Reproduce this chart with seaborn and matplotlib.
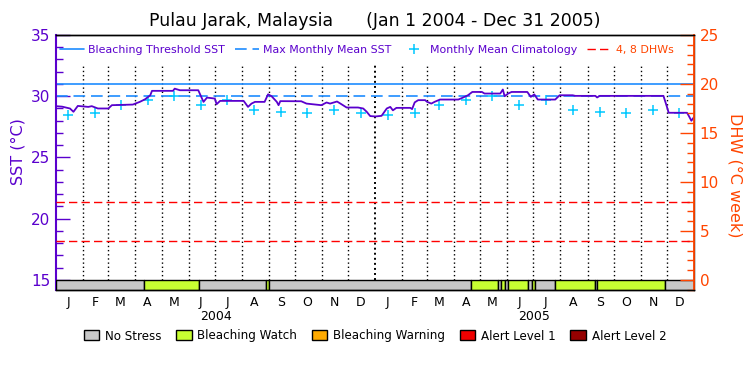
import numpy as np
import pandas as pd
import matplotlib
matplotlib.use("Agg")
import matplotlib.pyplot as plt
import matplotlib.dates as mdates
from matplotlib.lines import Line2D
from matplotlib.patches import Patch
from matplotlib.ticker import MultipleLocator
import seaborn as sns

START = pd.Timestamp("2004-01-01")

# daily SST (days since Jan 1 2004, deg C)
sst_days = [0, 7, 16, 20, 25, 37, 41, 48, 60, 64, 88, 96, 102, 108, 110, 134, 136, 142,
            163, 169, 173, 182, 184, 188, 215, 220, 224, 228, 239, 243, 247, 253, 255, 257,
            281, 287, 304, 310, 314, 322, 327, 333, 346, 352, 356, 360,
            366, 373, 379, 383, 386, 390, 406, 408, 411, 415, 423, 425, 430, 434, 440,
            461, 465, 472, 477, 488, 491, 509, 512, 514, 518, 522, 540, 544, 548, 552,
            572, 577, 592, 595, 618, 620, 623, 696, 700, 702, 723, 725, 728, 731]
sst_vals = [29.19, 29.15, 29.0, 28.73, 29.21, 29.13, 29.19, 29.0, 29.0, 29.27, 29.32, 29.54,
            29.75, 30.08, 30.44, 30.44, 30.62, 30.49, 30.49, 29.54, 29.89, 29.81, 29.35, 29.62,
            29.62, 29.13, 29.4, 29.54, 29.54, 30.16, 30.0, 29.54, 29.27, 29.6,
            29.59, 29.4, 29.27, 29.49, 29.4, 29.57, 29.35, 29.08, 29.08, 29.0, 28.73, 28.38,
            28.35, 28.4, 29.0, 29.13, 28.85, 29.05, 29.05, 28.95, 29.5, 29.68, 29.68, 29.55,
            29.4, 29.55, 29.73, 29.73, 29.85, 30.08, 30.35, 30.35, 30.22, 30.22, 30.55, 30.0,
            30.22, 30.35, 30.35, 29.95, 30.15, 29.73, 29.73, 30.08, 30.08, 30.03, 30.03, 29.9,
            30.03, 30.03, 29.13, 28.65, 28.65, 28.4, 28.0, 28.3]

# monthly mean climatology, Jan..Dec
clim = [28.45, 28.65, 29.25, 29.68, 30.03, 29.25, 29.68, 28.86, 28.73, 28.65, 28.86, 28.65]
mmm = 30.03
threshold = 31.03
dhw_levels = [4, 8]

# stress level bar: (start day, end day, level)
stress = [(0, 101, 0), (101, 164, 1), (164, 241, 0), (241, 244, 1), (244, 475, 0),
          (475, 507, 1), (507, 510, 0), (510, 514, 1), (514, 518, 0), (518, 541, 1),
          (541, 545, 0), (545, 549, 1), (549, 572, 0), (572, 618, 1), (618, 620, 0),
          (620, 698, 1), (698, 731, 0)]
stress_names = ["No Stress", "Bleaching Watch", "Bleaching Warning", "Alert Level 1", "Alert Level 2"]
stress_colors = ["#c8c8c8", "#c8ff32", "#ffaa00", "#f00000", "#960000"]
month_letters = ["J", "F", "M", "A", "M", "J", "J", "A", "S", "O", "N", "D"]
years = [2004, 2005]

PURPLE = "#5a00cd"
ORANGE = "#ff4500"
BLUE = "#1e8cff"
CYAN = "#00c8ff"

sns.set_style("white")
plt.rcParams["font.family"] = ["DejaVu Sans"]
plt.rcParams["text.color"] = "black"
plt.rcParams["xtick.color"] = "black"

df = pd.DataFrame({"date": START + pd.to_timedelta(sst_days, unit="D"), "sst": sst_vals})
clim_df = pd.DataFrame({
    "date": [pd.Timestamp(y, m + 1, 15) for y in years for m in range(12)],
    "sst": clim * len(years),
})

fig = plt.figure(figsize=(7.5, 3.75), dpi=100)
ax = fig.add_axes([56 / 750, 85 / 375, 638 / 750, 255 / 375])
ax2 = ax.twinx()

ymin = 14.18
ax.set_ylim(ymin, 35)
ax2.set_ylim((ymin - 15) * 1.25, 25)
x0, x1 = START, pd.Timestamp("2006-01-01")

# month grid
for y in years:
    for m in range(1, 13):
        d = pd.Timestamp(y, m, 1)
        if d == START:
            continue
        if m == 1:
            ax.axvline(d, ymin=0.039, ymax=0.882, color="black", lw=1.4, ls=(0, (1, 1.6)))
        else:
            ax.axvline(d, ymin=0.039, ymax=0.882, color="black", lw=1, ls=(0, (1, 2)))

ax.axhline(threshold, color=BLUE, lw=1.2)
ax.axhline(mmm, color=BLUE, lw=1.2, ls=(0, (7, 3.5)))
for lev in dhw_levels:
    ax2.axhline(lev, color="red", lw=1, ls=(0, (6, 3)))

sns.scatterplot(data=clim_df, x="date", y="sst", ax=ax, marker="+", s=45,
                color=CYAN, linewidth=1.1, zorder=4)
sns.lineplot(data=df, x="date", y="sst", ax=ax, color=PURPLE, lw=1.3, zorder=5)

# stress bar
xr = [(mdates.date2num(START + pd.Timedelta(days=a)), b - a) for a, b, _ in stress]
ax.broken_barh(xr, (ymin, 15 - ymin), facecolors=[stress_colors[s] for _, _, s in stress],
               edgecolor="black", lw=1, zorder=3)

ax.set_xlim(x0, x1)
ax.set_xlabel("")
ax.set_ylabel("")
mids = [pd.Timestamp(y, m + 1, 15) for y in years for m in range(12)]
ax.set_xticks(mids)
ax.set_xticklabels(month_letters * len(years), fontsize=9, color="black")
ax.tick_params(axis="x", length=0, pad=4)
for y in years:
    ax.text(pd.Timestamp(y, 7, 2), -0.102, str(y), transform=ax.get_xaxis_transform(),
            ha="center", va="center", fontsize=9, color="black")

ax.yaxis.set_major_locator(MultipleLocator(5))
ax.yaxis.set_minor_locator(MultipleLocator(1))
ax.tick_params(axis="y", which="major", direction="in", length=10, width=1, color=PURPLE,
               labelcolor=PURPLE, labelsize=11, left=True, right=False, pad=4)
ax.tick_params(axis="y", which="minor", direction="in", length=5, width=1, color=PURPLE,
               left=True, right=False)
ax2.set_yticks([0, 5, 10, 15, 20, 25])
ax2.yaxis.set_minor_locator(MultipleLocator(1))
ax2.tick_params(axis="y", which="major", direction="in", length=10, width=1, color=ORANGE,
                labelcolor=ORANGE, labelsize=11, pad=4)
ax2.tick_params(axis="y", which="minor", direction="in", length=5, width=1, color=ORANGE)

for a in (ax, ax2):
    for s in a.spines.values():
        s.set_color("black")
        s.set_linewidth(1)
ax.spines["left"].set_color(PURPLE)
ax.spines["left"].set_linewidth(1.5)
ax2.spines["right"].set_color(ORANGE)
ax2.spines["right"].set_linewidth(1.3)
ax2.spines["left"].set_visible(False)

handles = [Line2D([], [], color=BLUE, lw=1.2),
           Line2D([], [], color=BLUE, lw=1.2, ls=(0, (7, 3.5))),
           Line2D([], [], color=CYAN, marker="+", ls="none", markersize=7, mew=1.1),
           Line2D([], [], color="red", lw=1, ls=(0, (6, 3)))]
labels = ["Bleaching Threshold SST", "Max Monthly Mean SST", "Monthly Mean Climatology", "4, 8 DHWs"]
leg = ax2.legend(handles, labels, ncol=4, loc="center", bbox_to_anchor=(0.487, 0.94),
                 frameon=False, fontsize=7.9, handlelength=2.2, handletextpad=0.4,
                 columnspacing=0.9, borderpad=0)
for t, c in zip(leg.get_texts(), [PURPLE, PURPLE, PURPLE, ORANGE]):
    t.set_color(c)

sh = [Patch(facecolor=c, edgecolor="black", lw=1) for c in stress_colors]
fig.legend(sh, stress_names, ncol=5, loc="center", bbox_to_anchor=(0.5, 1 - 336 / 375),
           frameon=False, fontsize=8.6, handlelength=1.3, handleheight=0.9,
           handletextpad=0.5, columnspacing=1.2)

fig.text(0.5, 1 - 21 / 375, "Pulau Jarak, Malaysia      (Jan 1 2004 - Dec 31 2005)",
         ha="center", va="center", fontsize=12.5, color="black")
fig.text(18 / 750, 1 - 152 / 375, "SST (°C)", rotation=90, ha="center", va="center",
         color=PURPLE, fontsize=11.5)
fig.text(735 / 750, 1 - 175 / 375, "DHW (°C week)", rotation=270, ha="center", va="center",
         color=ORANGE, fontsize=11.5)

fig.savefig("out.png", dpi=100)
